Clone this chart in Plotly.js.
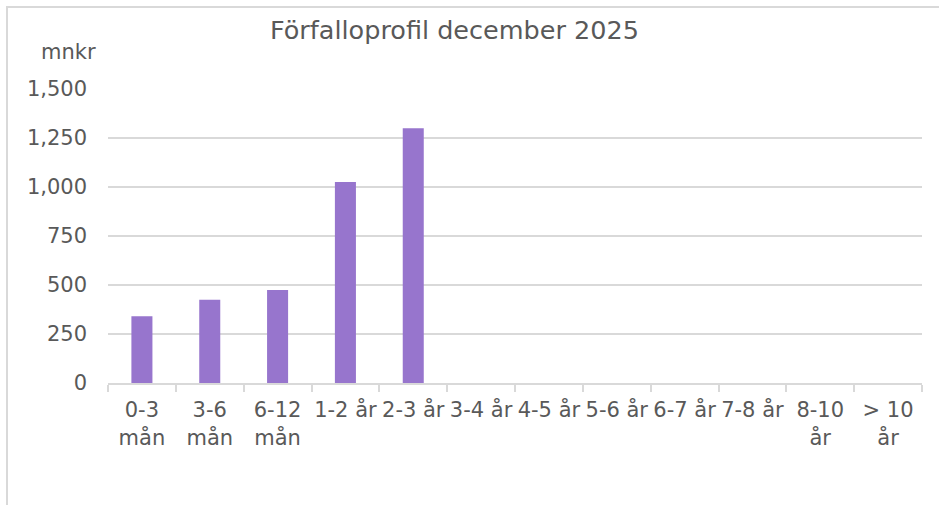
<!DOCTYPE html>
<html>
<head>
<meta charset="utf-8">
<script src="https://cdn.plot.ly/plotly-3.0.1.min.js"></script>
<style>
html,body{margin:0;padding:0;background:#fff;overflow:hidden;}
#chart{width:939px;height:505px;}
#frame{position:absolute;left:6px;top:6px;width:960px;height:600px;border:2px solid #d9d9d9;pointer-events:none;box-sizing:border-box;}
</style>
</head>
<body>
<div id="chart"></div>
<div id="frame"></div>
<script>
const categories = ["0-3<br>mån","3-6<br>mån","6-12<br>mån","1-2 år","2-3 år","3-4 år","4-5 år","5-6 år","6-7 år","7-8 år","8-10<br>år","> 10<br>år"];
const values = [340, 425, 475, 1025, 1300, 0, 0, 0, 0, 0, 0, 0];
const yTicks = [0, 250, 500, 750, 1000, 1250, 1500];
const yTickLabels = ["0", "250", "500", "750", "1,000", "1,250", "1,500"];
const titleText = "Förfalloprofil december 2025";
const unitText = "mnkr";

const font = "DejaVu Sans, Verdana, sans-serif";
const textColor = "#595959";

Plotly.newPlot("chart", [{
  type: "bar",
  x: categories,
  y: values,
  width: 0.31,
  marker: {color: "#9775cd", line: {width: 0}},
  hoverinfo: "skip"
}], {
  width: 939, height: 505,
  margin: {l: 108, r: 17, t: 89, b: 122, pad: 0},
  paper_bgcolor: "#ffffff",
  plot_bgcolor: "#ffffff",
  showlegend: false,
  font: {family: font, color: textColor, size: 21},
  title: {text: titleText, font: {family: font, size: 25.5, color: textColor}, x: 0.484, xanchor: "center", xref: "container", y: 0.94, yanchor: "middle"},
  xaxis: {
    type: "category",
    showgrid: false,
    showline: true, linecolor: "#d9d9d9", linewidth: 2,
    ticks: "outside", tickson: "boundaries", ticklen: 7, tickcolor: "#d9d9d9", tickwidth: 2,
    tickangle: 0,
    tickfont: {family: font, size: 21, color: textColor},
    ticklabelstandoff: 7,
    fixedrange: true
  },
  yaxis: {
    range: [0, 1500],
    tickvals: yTicks, ticktext: yTickLabels,
    showgrid: true, gridcolor: "#d9d9d9", gridwidth: 2,
    zeroline: false, showline: false, ticks: "",
    tickfont: {family: font, size: 21, color: textColor},
    ticklabelstandoff: 20,
    fixedrange: true
  },
  annotations: [{
    text: unitText, xref: "paper", yref: "paper",
    x: -0.049, y: 1.125, xanchor: "center", yanchor: "middle",
    showarrow: false, font: {family: font, size: 21, color: textColor}
  }]
}, {displayModeBar: false, staticPlot: true});
</script>
</body>
</html>
